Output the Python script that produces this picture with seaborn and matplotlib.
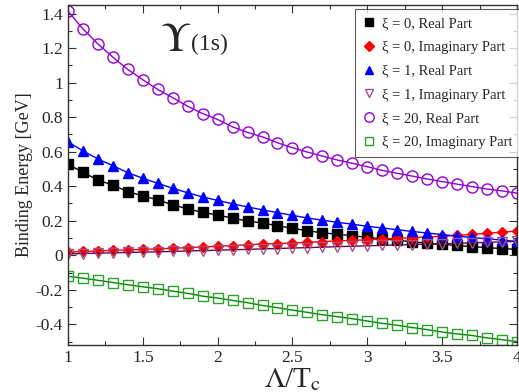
import numpy as np
import pandas as pd
import seaborn as sns
import matplotlib.pyplot as plt
from matplotlib.lines import Line2D

# Valores (Lambda/Tc de 1 a 4, passo 0.1)
lam = np.round(np.arange(1.0, 4.01, 0.1), 1)

xi0_real = [0.527, 0.481, 0.436, 0.406, 0.369, 0.344, 0.321, 0.292, 0.269, 0.248,
            0.233, 0.215, 0.198, 0.187, 0.171, 0.156, 0.142, 0.130, 0.122, 0.113,
            0.104, 0.095, 0.087, 0.078, 0.070, 0.063, 0.057, 0.050, 0.044, 0.039, 0.034]
xi0_imag = [0.018, 0.022, 0.025, 0.028, 0.031, 0.034, 0.037, 0.041, 0.044, 0.048,
            0.052, 0.056, 0.061, 0.065, 0.068, 0.071, 0.075, 0.079, 0.083, 0.086,
            0.090, 0.094, 0.098, 0.102, 0.106, 0.110, 0.115, 0.121, 0.127, 0.134, 0.140]
xi1_real = [0.657, 0.605, 0.558, 0.519, 0.479, 0.446, 0.417, 0.388, 0.362, 0.338,
            0.318, 0.298, 0.280, 0.263, 0.247, 0.231, 0.216, 0.203, 0.191, 0.180,
            0.168, 0.158, 0.148, 0.138, 0.129, 0.120, 0.111, 0.103, 0.095, 0.088, 0.080]
xi1_imag = [0.008, 0.010, 0.012, 0.014, 0.016, 0.018, 0.020, 0.022, 0.025, 0.027,
            0.029, 0.032, 0.034, 0.037, 0.039, 0.042, 0.044, 0.047, 0.050, 0.052,
            0.055, 0.057, 0.060, 0.062, 0.064, 0.066, 0.069, 0.072, 0.075, 0.077, 0.080]
xi20_real = [1.415, 1.312, 1.225, 1.148, 1.077, 1.017, 0.961, 0.913, 0.863, 0.821,
             0.787, 0.744, 0.712, 0.686, 0.652, 0.623, 0.598, 0.575, 0.552, 0.533,
             0.513, 0.492, 0.475, 0.459, 0.442, 0.427, 0.412, 0.398, 0.384, 0.373, 0.360]
xi20_imag = [-0.122, -0.133, -0.145, -0.158, -0.171, -0.183, -0.194, -0.208, -0.221, -0.237,
             -0.248, -0.262, -0.275, -0.291, -0.304, -0.318, -0.331, -0.345, -0.356, -0.368,
             -0.381, -0.395, -0.406, -0.419, -0.431, -0.445, -0.456, -0.465, -0.479, -0.489, -0.501]

labels = ["ξ = 0, Real Part", "ξ = 0, Imaginary Part", "ξ = 1, Real Part",
          "ξ = 1, Imaginary Part", "ξ = 20, Real Part", "ξ = 20, Imaginary Part"]
series = [xi0_real, xi0_imag, xi1_real, xi1_imag, xi20_real, xi20_imag]

x_ticks = [1, 1.5, 2, 2.5, 3, 3.5, 4]
x_ticklabels = ["1", "1.5", "2", "2.5", "3", "3.5", "4"]
y_ticks = [-0.4, -0.2, 0, 0.2, 0.4, 0.6, 0.8, 1.0, 1.2, 1.4]
y_ticklabels = ["-0.4", "-0.2", "0", "0.2", "0.4", "0.6", "0.8", "1", "1.2", "1.4"]

# Estilos (cor, marcador, preenchido, tamanho)
estilos = [
    ("black", "s", True, 6.5),
    ("red", "D", True, 5.5),
    ("blue", "^", True, 7),
    ("#67074a", "v", False, 7),
    ("#9400d3", "o", False, 8),
    ("#008b00", "s", False, 7),
]
cor_marcador = {3: "#a0508a", 5: "#2ca02c"}

sns.set_style("ticks")
plt.rcParams["font.family"] = ["Liberation Serif", "DejaVu Serif"]
plt.rcParams["mathtext.fontset"] = "stix"

fig = plt.figure(figsize=(5.19, 3.92), dpi=100)
ax = fig.add_axes([0.131, 0.12, 0.865, 0.867])

for i, (nome, vals) in enumerate(zip(labels, series)):
    cor, mk, cheio, ms = estilos[i]
    df = pd.DataFrame({"x": lam, "y": vals})
    sns.lineplot(data=df, x="x", y="y", ax=ax, color=cor, linewidth=1.0,
                 marker=mk, markersize=ms,
                 markerfacecolor=cor if cheio else "none",
                 markeredgecolor=cor_marcador.get(i, cor), markeredgewidth=1.0)

ax.set_xlim(1, 4)
ax.set_ylim(-0.52, 1.45)
ax.set_xticks(x_ticks)
ax.set_xticklabels(x_ticklabels)
ax.set_xticks(np.arange(1.25, 4, 0.5), minor=True)
ax.set_yticks(y_ticks)
ax.set_yticklabels(y_ticklabels)
ax.set_yticks(np.arange(-0.5, 1.45, 0.2), minor=True)
ax.tick_params(which="both", direction="in", top=True, right=True, labelsize=12.5,
               width=0.8, color="#333333")
ax.tick_params(which="major", length=6)
ax.tick_params(which="minor", length=3)
for s in ax.spines.values():
    s.set_linewidth(1.0)
    s.set_color("#333333")

ax.set_xlabel(r"$\Lambda$/T$_{\rm c}$", fontsize=21, labelpad=0)
ax.set_ylabel("Binding Energy [GeV]", fontsize=13, labelpad=2)

ax.text(0.205, 0.895, r"$\Upsilon$", transform=ax.transAxes, fontsize=30,
        ha="left", va="center")
ax.text(0.275, 0.885, "(1s)", transform=ax.transAxes, fontsize=17,
        ha="left", va="center")

handles = []
for i in range(6):
    cor, mk, cheio, ms = estilos[i]
    handles.append(Line2D([], [], linestyle="none", marker=mk, markersize=ms * 0.85,
                          markerfacecolor=cor if cheio else "none",
                          markeredgecolor=cor_marcador.get(i, cor)))
leg = ax.legend(handles, labels, loc="upper right", bbox_to_anchor=(1.009, 0.988),
                borderaxespad=0, fontsize=10.5, frameon=True, fancybox=False,
                edgecolor="#333333", handlelength=0.8, handletextpad=0.5,
                borderpad=0.55, labelspacing=0.72)
leg.get_frame().set_linewidth(0.8)

fig.savefig("out.png", dpi=100)
